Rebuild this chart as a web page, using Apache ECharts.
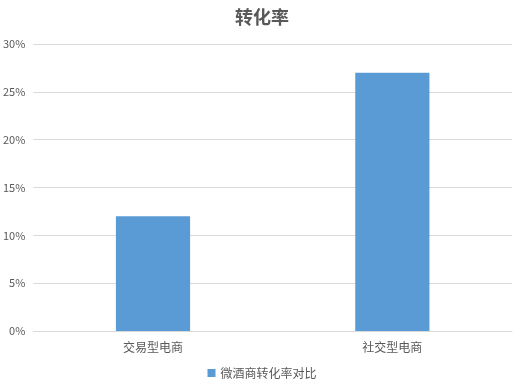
<!DOCTYPE html>
<html><head><meta charset="utf-8">
<script src="https://cdn.jsdelivr.net/npm/echarts@6/dist/echarts.min.js"></script>
<style>html,body{margin:0;padding:0;background:#fff;}#c{width:524px;height:392px;}</style>
</head><body><div id="c"></div>
<script>
var categories = ['交易型电商', '社交型电商'];
var seriesName = '微酒商转化率对比';
var values = [12, 27];
var titleText = '转化率';

var chart = echarts.init(document.getElementById('c'));
var font = '"Microsoft YaHei","Noto Sans CJK SC",sans-serif';
chart.setOption({
  animation: false,
  backgroundColor: '#fff',
  title: {text: titleText, left: 'center', top: 3,
    textStyle: {fontSize: 18, fontWeight: 'bold', color: '#595959', fontFamily: font}},
  legend: {bottom: 8, left: 'center', itemWidth: 8, itemHeight: 8, itemGap: 4,
    icon: 'rect', textStyle: {fontSize: 12, color: '#595959', fontFamily: font},
    data: [seriesName]},
  grid: {left: 33, right: 12, top: 44, bottom: 61},
  xAxis: {type: 'category', data: categories,
    axisLine: {lineStyle: {color: '#d9d9d9'}}, axisTick: {show: false},
    axisLabel: {fontSize: 12, color: '#595959', margin: 10, fontFamily: font}},
  yAxis: {type: 'value', min: 0, max: 30, interval: 5,
    axisLine: {show: false}, axisTick: {show: false},
    splitLine: {lineStyle: {color: '#d9d9d9'}},
    axisLabel: {formatter: '{value}%', fontSize: 11, color: '#595959', margin: 8, fontFamily: font}},
  series: [{name: seriesName, type: 'bar', data: values, barWidth: '31%',
    itemStyle: {color: '#5b9bd5'}}]
});
</script></body></html>
